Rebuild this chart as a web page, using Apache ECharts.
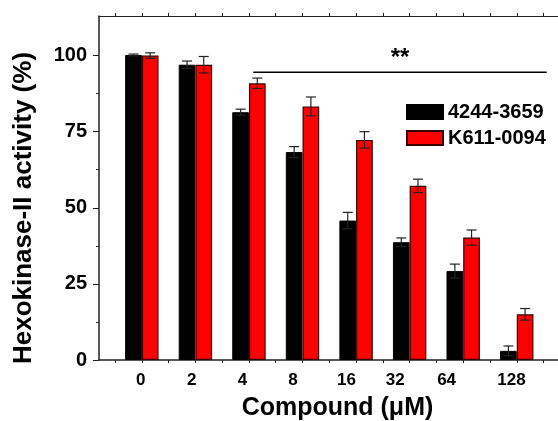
<!DOCTYPE html>
<html>
<head>
<meta charset="utf-8">
<title>Hexokinase-II activity</title>
<script src="https://cdn.jsdelivr.net/npm/echarts@6/dist/echarts.min.js"></script>
<style>
  html, body { margin: 0; padding: 0; background: #fff; }
  #chart { width: 558px; height: 421px; }
</style>
</head>
<body>
<div id="chart"></div>
<script>
// compound concentrations (uM)
const categories = ['0', '2', '4', '8', '16', '32', '64', '128']
// mean activity (%) and error
const hk4244 = [100.2, 97.0, 81.4, 68.3, 45.8, 38.7, 29.2, 3.0]
const hk4244Err = [0.3, 1.2, 1.0, 1.8, 2.7, 1.4, 2.3, 1.6]
const hkK611 = [100.0, 97.0, 90.9, 83.3, 72.3, 57.2, 40.2, 15.0]
const hkK611Err = [0.9, 2.7, 1.7, 3.1, 2.7, 2.2, 2.5, 1.9]
const seriesNames = ['4244-3659', 'K611-0094']
const yTicks = [0, 25, 50, 75, 100]
const yMinorTicks = [12.5, 37.5, 62.5, 87.5]
// significance bracket
const sigSpan = [2.08, 7.56]
const sigLevel = 94.5
const sigText = '**'

const font = 'Arial, "Liberation Sans", Helvetica, sans-serif'
const axisColor = '#222'
const barW = 16.7
// the original labels sit a little left of the bar groups
const labelShift = [-0.02, -0.07, -0.12, -0.18, -0.18, -0.27, -0.31, -0.10]
const labelPos = categories.map((c, i) => i + labelShift[i])
const xTickPos = []
for (let i = -1; i <= 15; i++) xTickPos.push(i / 2)

function errorSeries(name, values, errs, shift) {
  return {
    type: 'custom',
    name: name + ' err',
    z: 5,
    silent: true,
    encode: { x: 0, y: 1 },
    data: values.map((v, i) => [i, v, errs[i]]),
    renderItem(params, api) {
      const x = api.value(0)
      const v = api.value(1)
      const e = api.value(2)
      const hi = api.coord([x, v + e])
      const lo = api.coord([x, v - e])
      const cx = hi[0] + shift
      const cap = 5
      const style = { stroke: axisColor, lineWidth: 1.2 }
      return {
        type: 'group',
        children: [
          { type: 'line', shape: { x1: cx, y1: hi[1], x2: cx, y2: lo[1] }, style },
          { type: 'line', shape: { x1: cx - cap, y1: hi[1], x2: cx + cap, y2: hi[1] }, style },
          { type: 'line', shape: { x1: cx - cap, y1: lo[1], x2: cx + cap, y2: lo[1] }, style }
        ]
      }
    }
  }
}

const chart = echarts.init(document.getElementById('chart'))

const xBase = {
  type: 'value',
  min: -0.8,
  max: 7.77,
  splitLine: { show: false },
  axisLine: { show: true, onZero: false, lineStyle: { color: axisColor, width: 1.5 } },
  axisTick: { show: true, length: 3, customValues: xTickPos, lineStyle: { color: axisColor } }
}

chart.setOption({
  animation: false,
  textStyle: { fontFamily: font },
  grid: { left: 99, top: 16, right: 0, bottom: 61, containLabel: false, outerBoundsMode: 'none' },
  legend: {
    left: 406,
    top: 102,
    padding: 0,
    orient: 'vertical',
    itemWidth: 36,
    itemHeight: 14,
    itemGap: 6,
    icon: 'rect',
    data: seriesNames,
    textStyle: { fontSize: 20, fontWeight: 'bold', color: '#000', fontFamily: font }
  },
  xAxis: [
    Object.assign({}, xBase, {
      position: 'bottom',
      name: 'Compound (\u03bcM)',
      nameLocation: 'middle',
      nameGap: 36,
      nameTextStyle: { fontSize: 25, fontWeight: 'bold', color: '#000', padding: [0, 0, 0, 18] },
      axisLabel: {
        customValues: labelPos,
        margin: 12,
        fontSize: 17,
        fontWeight: 'bold',
        color: '#000',
        formatter: v => categories[Math.round(v)]
      }
    }),
    Object.assign({}, xBase, {
      position: 'top',
      axisLine: { show: true, onZero: false, lineStyle: { color: axisColor, width: 1.2 } },
      axisLabel: { show: false }
    })
  ],
  yAxis: [
    {
      type: 'value',
      min: 0,
      max: 113,
      name: 'Hexokinase-II activity (%)',
      nameLocation: 'middle',
      nameGap: 62,
      nameTextStyle: { fontSize: 26, fontWeight: 'bold', color: '#000', padding: [0, 40, 0, 0] },
      splitLine: { show: false },
      axisLine: { show: true, onZero: false, lineStyle: { color: axisColor, width: 1.5 } },
      axisTick: { show: true, length: 6, customValues: yTicks, lineStyle: { color: axisColor } },
      axisLabel: {
        customValues: yTicks,
        margin: 12,
        fontSize: 20,
        fontWeight: 'bold',
        color: '#000'
      }
    },
    {
      type: 'value',
      min: 0,
      max: 113,
      position: 'left',
      splitLine: { show: false },
      axisLine: { show: false, onZero: false },
      axisTick: { show: true, length: 3, customValues: yMinorTicks, lineStyle: { color: axisColor } },
      axisLabel: { show: false }
    }
  ],
  series: [
    {
      type: 'bar',
      name: seriesNames[0],
      barWidth: barW,
      barGap: '0%',
      data: hk4244.map((v, i) => [i, v]),
      itemStyle: { color: '#000', borderColor: '#000', borderWidth: 1 }
    },
    {
      type: 'bar',
      name: seriesNames[1],
      barWidth: barW,
      barGap: '0%',
      data: hkK611.map((v, i) => [i, v]),
      itemStyle: { color: '#ff0000', borderColor: '#3a0000', borderWidth: 1.2 }
    },
    errorSeries(seriesNames[0], hk4244, hk4244Err, -barW / 2),
    errorSeries(seriesNames[1], hkK611, hkK611Err, barW / 2),
    {
      // significance bracket
      type: 'line',
      name: 'sig',
      silent: true,
      symbol: 'none',
      z: 4,
      lineStyle: { color: '#000', width: 1.5 },
      data: sigSpan.map(x => [x, sigLevel]),
      markPoint: {
        silent: true,
        symbol: 'circle',
        symbolSize: 0,
        label: {
          show: true,
          position: 'top',
          distance: 2,
          formatter: sigText,
          fontSize: 24,
          fontWeight: 'bold',
          color: '#000'
        },
        data: [{ coord: [(sigSpan[0] + sigSpan[1]) / 2, sigLevel] }]
      }
    }
  ]
})
</script>
</body>
</html>
